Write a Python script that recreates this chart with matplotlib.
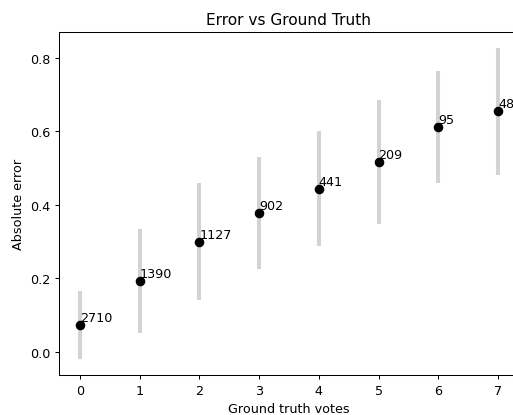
import matplotlib
matplotlib.use("Agg")
import matplotlib.pyplot as plt

votes = [0, 1, 2, 3, 4, 5, 6, 7]
mean_err = [0.073, 0.194, 0.300, 0.378, 0.444, 0.517, 0.611, 0.654]
std_err = [0.093, 0.141, 0.158, 0.152, 0.157, 0.168, 0.153, 0.173]
counts = [2710, 1390, 1127, 902, 441, 209, 95, 48]

DPI = 92
fig = plt.figure(figsize=(513/DPI, 416/DPI), dpi=DPI)
ax = fig.add_axes([59/513, 40/416, 460/513, 343/416])
ax.errorbar(votes, mean_err, yerr=std_err, fmt='o', color='black',
            markersize=6.5, ecolor='lightgray', elinewidth=3.2, capsize=0)
for x, y, c in zip(votes, mean_err, counts):
    ax.annotate(str(c), (x, y), xytext=(0, 3), textcoords='offset points')
ax.set_title("Error vs Ground Truth")
ax.set_xlabel("Ground truth votes")
ax.set_ylabel("Absolute error")
fig.savefig("out.png", dpi=DPI)
